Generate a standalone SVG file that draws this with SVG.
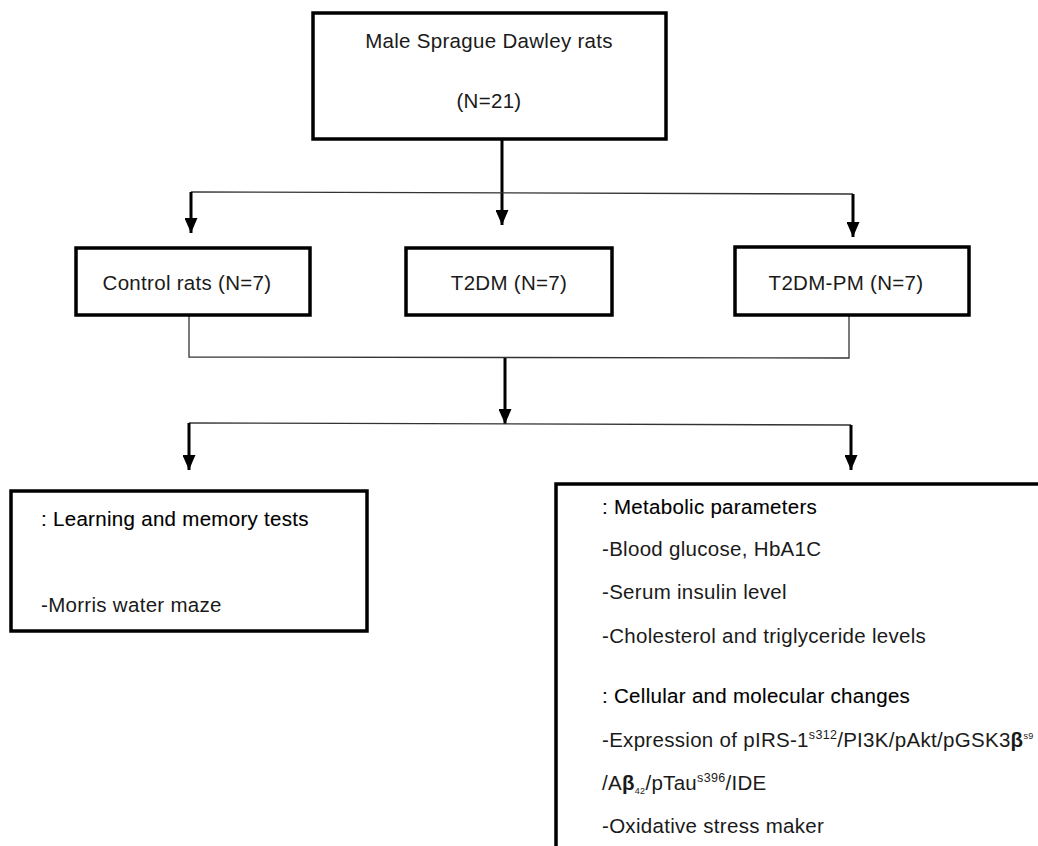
<svg xmlns="http://www.w3.org/2000/svg" width="1038" height="846" viewBox="0 0 1038 846">
<defs>
<marker id="ah" viewBox="0 0 15 13" refX="15" refY="6.5" markerWidth="15" markerHeight="13" markerUnits="userSpaceOnUse" orient="auto">
<path d="M0,0 L15,6.5 L0,13 Z" fill="#000"/>
</marker>
<style>
.box{fill:#fff;stroke:#000;stroke-width:3.5}
.t{font-family:"Liberation Sans",Arial,sans-serif;font-size:20.5px;letter-spacing:0.3px;fill:#1a1a1a}
.h{font-family:"Liberation Sans",Arial,sans-serif;font-size:20.5px;letter-spacing:0.3px;fill:#000;stroke:#000;stroke-width:0.12}
.thin{fill:none;stroke:#333;stroke-width:1.3}
.shaft{fill:none;stroke:#000;stroke-width:3}
</style>
</defs>
<rect width="1038" height="846" fill="#fff"/>
<g id="connectors">
<path class="shaft" d="M502,140 V225" marker-end="url(#ah)"/>
<path class="thin" d="M191,192 L853,194"/>
<path class="shaft" d="M191,192 V233" marker-end="url(#ah)"/>
<path class="shaft" d="M853,194 V237" marker-end="url(#ah)"/>
<path class="thin" d="M189,315 V357 L849,358 V315"/>
<path class="shaft" d="M505,358 V424" marker-end="url(#ah)"/>
<path class="thin" d="M189,423 L851,425"/>
<path class="shaft" d="M189,423 V470" marker-end="url(#ah)"/>
<path class="shaft" d="M851,425 V470" marker-end="url(#ah)"/>
</g>
<g id="n_root">
<rect class="box" x="313" y="13" width="353" height="126"/>
<text class="t" x="489" y="48" text-anchor="middle">Male Sprague Dawley rats</text>
<text class="t" x="489" y="108" text-anchor="middle">(N=21)</text>
</g>
<g id="n_control">
<rect class="box" x="76" y="248" width="234" height="67"/>
<text class="t" x="187" y="290" text-anchor="middle">Control rats (N=7)</text>
</g>
<g id="n_t2dm">
<rect class="box" x="406" y="248" width="206" height="67"/>
<text class="t" x="509" y="290" text-anchor="middle">T2DM (N=7)</text>
</g>
<g id="n_t2dmpm">
<rect class="box" x="735" y="247" width="234" height="68"/>
<text class="t" x="846" y="290" text-anchor="middle">T2DM-PM (N=7)</text>
</g>
<g id="n_learning">
<rect class="box" x="11" y="491" width="356" height="140"/>
<text class="h" x="41" y="526">: Learning and memory tests</text>
<text class="t" x="41" y="612">-Morris water maze</text>
</g>
<g id="n_metabolic">
<path class="box" d="M1040,484 H556 V850"/>
<text class="h" x="602" y="514">: Metabolic parameters</text>
<text class="t" x="602" y="556">-Blood glucose, HbA1C</text>
<text class="t" x="602" y="599">-Serum insulin level</text>
<text class="t" x="602" y="643">-Cholesterol and triglyceride levels</text>
<text class="h" x="602" y="703">: Cellular and molecular changes</text>
<text class="t" x="602" y="747">-Expression of pIRS-1<tspan font-size="12.5" dy="-8">s312</tspan><tspan dy="8">/PI3K/pAkt/pGSK3</tspan><tspan font-weight="bold">β</tspan><tspan font-size="9" dy="-8">s9</tspan></text>
<text class="t" x="602" y="790">/A<tspan font-weight="bold">β</tspan><tspan font-size="9" dy="4">42</tspan><tspan dy="-4">/pTau</tspan><tspan font-size="12.5" dy="-8">s396</tspan><tspan dy="8">/IDE</tspan></text>
<text class="t" x="602" y="833">-Oxidative stress maker</text>
</g>
</svg>
